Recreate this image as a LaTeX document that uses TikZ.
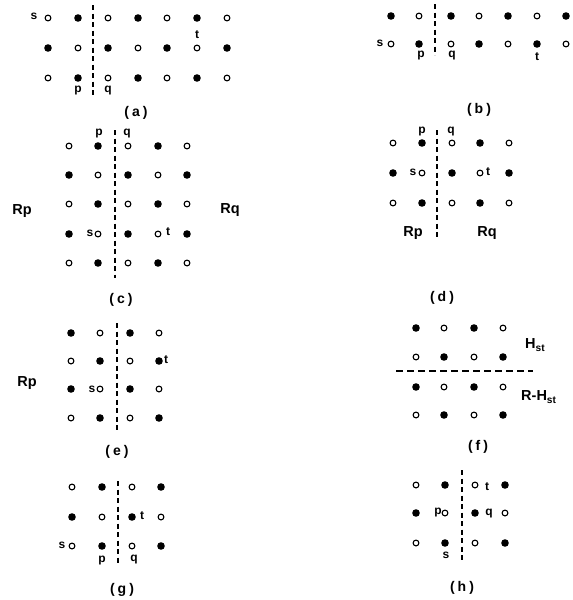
\documentclass[tikz,border=0pt]{standalone}
\usepackage{fontspec}
\setmainfont{Liberation Sans}
\begin{document}
\begin{tikzpicture}[x=1pt,y=-1pt,
  fd/.style={circle,fill=black,draw=none,minimum size=7.6pt,inner sep=0pt},
  od/.style={circle,draw=black,line width=1.1pt,fill=white,minimum size=5.8pt,inner sep=0pt},
  cut/.style={line width=1.4pt,dash pattern=on 5pt off 3.5pt},
  lab/.style={inner sep=0pt,font=\fontsize{12}{14}\selectfont\bfseries},
  big/.style={inner sep=0pt,font=\fontsize{14.5}{16}\selectfont\bfseries},
  captxt/.style={inner sep=0pt,font=\fontsize{14}{16}\selectfont\bfseries}]
\useasboundingbox (0,0) rectangle (573,600);
\newcommand{\dgrid}[4]{%
  \foreach \yy [count=\r] in {#3} {
    \foreach \xx [count=\c] in {#2} {
      \pgfmathtruncatemacro\dpar{mod(\r+\c+#4,2)}
      \ifnum\dpar=0 \node[fd] (#1\r\c) at (\xx,\yy) {};
      \else \node[od] (#1\r\c) at (\xx,\yy) {}; \fi
    }}}
% (a)
\dgrid{a}{48,78,108,138,167,197,227}{18,48,78}{1}
\coordinate (aT) at (93,5); \coordinate (aB) at (93,97);
\draw[cut] (aT) -- (aB);
\node[lab] (as) at (34,16) {s};
\node[lab] (at) at (197,35) {t};
\node[lab] (ap) at (78,91) {p};
\node[lab] (aq) at (108,91) {q};
\node[captxt] (ca) at (136,113) {(\kern3pt a\kern3pt)};
% (b)
\dgrid{b}{391,419,451,479,508,537,566}{16,44}{0}
\coordinate (bT) at (435,4); \coordinate (bB) at (435,55);
\draw[cut] (bT) -- (bB);
\node[lab] (bs) at (380,43) {s};
\node[lab] (bp) at (421,56) {p};
\node[lab] (bq) at (452,56) {q};
\node[lab] (bt) at (537,57) {t};
\node[captxt] (cb) at (479,110) {(\kern3pt b\kern3pt)};
% (c)
\dgrid{c}{69,98,128,158,187}{146,175,204,234,263}{1}
\coordinate (cT) at (115,130); \coordinate (cB) at (115,278);
\draw[cut] (cT) -- (cB);
\node[lab] (cp) at (99,134) {p};
\node[lab] (cq) at (127,134) {q};
\node[lab] (cs) at (90,233) {s};
\node[lab] (ct) at (168,232) {t};
\node[big] (cRp) at (22,211) {Rp};
\node[big] (cRq) at (230,210) {Rq};
\node[captxt] (cc) at (121,300) {(\kern3pt c\kern3pt)};
% (d)
\dgrid{d}{393,422,452,480,509}{143,173,203}{1}
\coordinate (dT) at (437,130); \coordinate (dB) at (437,240);
\draw[cut] (dT) -- (dB);
\node[lab] (dp) at (422,132) {p};
\node[lab] (dq) at (451,132) {q};
\node[lab] (ds) at (413,172) {s};
\node[lab] (dt) at (488,172) {t};
\node[big] (dRp) at (413,233) {Rp};
\node[big] (dRq) at (487,233) {Rq};
\node[captxt] (cd) at (442,298) {(\kern3pt d\kern3pt)};
% (e)
\dgrid{e}{71,100,130,159}{333,361,389,418}{0}
\coordinate (eT) at (117,323); \coordinate (eB) at (117,432);
\draw[cut] (eT) -- (eB);
\node[lab] (es) at (92,389) {s};
\node[lab] (et) at (166,360) {t};
\node[big] (eRp) at (27,383) {Rp};
\node[captxt] (ce) at (117,452) {(\kern3pt e\kern3pt)};
% (f)
\dgrid{f}{416,444,474,503}{328,357,387,415}{0}
\coordinate (fL) at (396,371); \coordinate (fR) at (533,371);
\draw[cut,dash pattern=on 6.5pt off 4.5pt] (fL) -- (fR);
\node[big,anchor=west] (fH) at (525,345) {H$_{\mathbf{st}}$};
\node[big,anchor=west] (fRH) at (521,397) {R-H$_{\mathbf{st}}$};
\node[captxt] (cf) at (478,447) {(\kern3pt f\kern3pt)};
% (g)
\dgrid{g}{72,102,132,161}{487,517,546}{1}
\coordinate (gT) at (118,481); \coordinate (gB) at (118,563);
\draw[cut] (gT) -- (gB);
\node[lab] (gs) at (62,545) {s};
\node[lab] (gp) at (102,560) {p};
\node[lab] (gq) at (134,560) {q};
\node[lab] (gt) at (142,516) {t};
\node[captxt] (cg) at (122,590) {(\kern3pt g\kern3pt)};
% (h)
\dgrid{h}{416,445,475,505}{485,513,543}{1}
\coordinate (hT) at (462,470); \coordinate (hB) at (462,560);
\draw[cut] (hT) -- (hB);
\node[lab] (ht) at (487,487) {t};
\node[lab] (hp) at (438,513) {p};
\node[lab] (hq) at (489,514) {q};
\node[lab] (hs) at (446,555) {s};
\node[captxt] (ch) at (462,588) {(\kern3pt h\kern3pt)};
\end{tikzpicture}
\end{document}
